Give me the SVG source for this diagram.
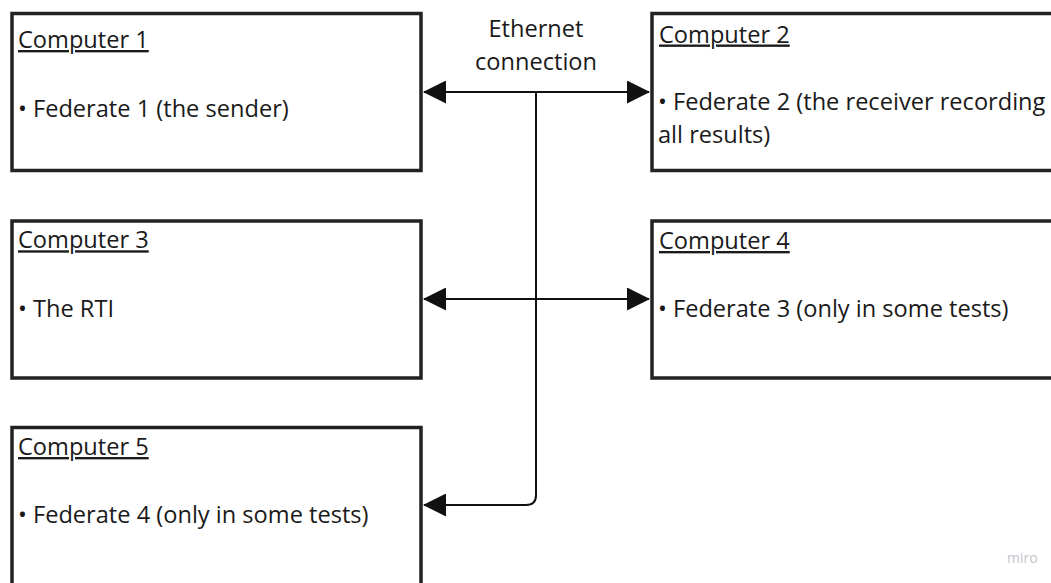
<svg xmlns="http://www.w3.org/2000/svg" width="1051" height="583" viewBox="0 0 1051 583">
  <style>
    .box { fill: #ffffff; stroke: #222222; stroke-width: 3.5; }
    .t { font-family: "Open Sans", "Noto Sans", "DejaVu Sans", sans-serif; font-size: 23.6px; fill: #1a1a1a; }
    .title { text-decoration: underline; }
    .conn { fill: none; stroke: #111111; stroke-width: 2; }
    .wm { font-family: "Open Sans", "Noto Sans", sans-serif; font-size: 14px; fill: #c4c4cc; }
  </style>
  <defs>
    <marker id="arrow" viewBox="0 0 23 23" refX="22" refY="11.5" markerWidth="23" markerHeight="23" markerUnits="userSpaceOnUse" orient="auto-start-reverse">
      <path d="M0,0 L23,11.5 L0,23 Z" fill="#111111"/>
    </marker>
  </defs>
  <rect width="1051" height="583" fill="#ffffff"/>

  <g id="computer1">
    <rect class="box" x="12" y="13.5" width="409" height="157"/>
    <text class="t title" x="18" y="48">Computer 1</text>
    <text class="t" x="18" y="116.5">• Federate 1 (the sender)</text>
  </g>

  <g id="computer2">
    <rect class="box" x="652" y="13.5" width="420" height="157"/>
    <text class="t title" x="659" y="42.5">Computer 2</text>
    <text class="t" x="658" y="110">• Federate 2 (the receiver recording</text>
    <text class="t" x="658" y="143.3">all results)</text>
  </g>

  <g id="computer3">
    <rect class="box" x="12" y="221" width="409" height="157"/>
    <text class="t title" x="18" y="248.3">Computer 3</text>
    <text class="t" x="18" y="316.7">• The RTI</text>
  </g>

  <g id="computer4">
    <rect class="box" x="652" y="221" width="420" height="157"/>
    <text class="t title" x="659" y="249">Computer 4</text>
    <text class="t" x="658" y="317">• Federate 3 (only in some tests)</text>
  </g>

  <g id="computer5">
    <rect class="box" x="12" y="427.5" width="409" height="200"/>
    <text class="t title" x="18" y="455">Computer 5</text>
    <text class="t" x="18" y="523">• Federate 4 (only in some tests)</text>
  </g>

  <g id="ethernet-label">
    <text class="t" x="536" y="36.7" text-anchor="middle">Ethernet</text>
    <text class="t" x="536" y="70" text-anchor="middle">connection</text>
  </g>

  <g id="connectors">
    <line class="conn" x1="424" y1="92" x2="649" y2="92" marker-start="url(#arrow)" marker-end="url(#arrow)"/>
    <line class="conn" x1="424" y1="299" x2="649" y2="299" marker-start="url(#arrow)" marker-end="url(#arrow)"/>
    <path class="conn" d="M536,92 V495 Q536,505 526,505 H424" marker-end="url(#arrow)"/>
  </g>

  <text class="wm" x="1007" y="563">miro</text>
</svg>
